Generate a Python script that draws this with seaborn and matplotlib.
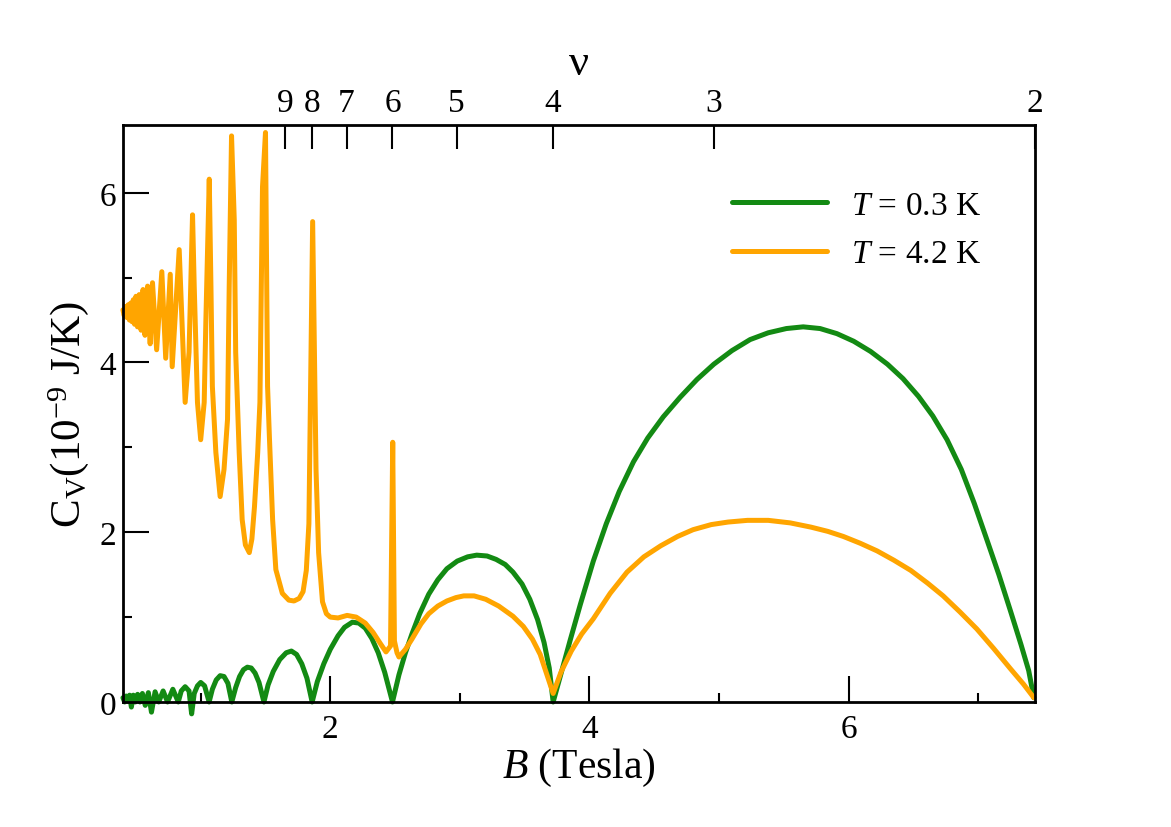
import numpy as np
import pandas as pd
import seaborn as sns
from matplotlib import pyplot as plt
from matplotlib.ticker import MultipleLocator, FixedLocator

NU_B = 14.88

# T = 0.3 K curve
green_B = [0.400, 0.413, 0.425, 0.438, 0.451, 0.465, 0.480, 0.496, 0.513, 0.531,
           0.550, 0.572, 0.596, 0.620, 0.648, 0.676, 0.710, 0.744, 0.785, 0.827,
           0.850, 0.880, 0.910, 0.930, 0.950, 0.975, 1.000, 1.030, 1.065, 1.090,
           1.120, 1.150, 1.180, 1.210, 1.240, 1.270, 1.300, 1.330, 1.360, 1.390,
           1.420, 1.450, 1.488, 1.520, 1.560, 1.610, 1.660, 1.700, 1.740, 1.780,
           1.820, 1.860, 1.900, 1.950, 2.000, 2.060, 2.110, 2.170, 2.220, 2.270,
           2.320, 2.370, 2.420, 2.480, 2.530, 2.580, 2.630, 2.690, 2.760, 2.830,
           2.900, 2.980, 3.060, 3.130, 3.210, 3.280, 3.350, 3.410, 3.480, 3.540,
           3.600, 3.650, 3.690, 3.720, 3.780, 3.850, 3.930, 4.030, 4.130, 4.230,
           4.340, 4.450, 4.570, 4.700, 4.830, 4.960, 5.100, 5.240, 5.380, 5.520,
           5.650, 5.780, 5.910, 6.040, 6.170, 6.300, 6.420, 6.540, 6.650, 6.760,
           6.870, 6.970, 7.070, 7.160, 7.250, 7.330, 7.390, 7.430]
green_C = [0.05, 0.00, 0.07, 0.01, 0.08, -0.06, 0.08, 0.00, 0.09, 0.00,
           0.10, -0.04, 0.11, -0.12, 0.12, 0.00, 0.13, 0.00, 0.15, 0.00,
           0.13, 0.18, 0.13, -0.14, 0.10, 0.19, 0.23, 0.19, 0.00, 0.15,
           0.26, 0.31, 0.30, 0.22, 0.00, 0.17, 0.30, 0.38, 0.41, 0.40,
           0.34, 0.23, 0.00, 0.20, 0.36, 0.50, 0.58, 0.60, 0.56, 0.45,
           0.28, 0.00, 0.24, 0.45, 0.62, 0.78, 0.88, 0.94, 0.93, 0.87,
           0.75, 0.58, 0.35, 0.00, 0.32, 0.58, 0.80, 1.04, 1.27, 1.44,
           1.57, 1.66, 1.71, 1.73, 1.72, 1.68, 1.62, 1.53, 1.39, 1.21,
           0.97, 0.70, 0.40, 0.00, 0.33, 0.72, 1.15, 1.66, 2.10, 2.48,
           2.83, 3.11, 3.36, 3.59, 3.80, 3.98, 4.14, 4.27, 4.35, 4.40,
           4.42, 4.40, 4.34, 4.25, 4.13, 3.98, 3.81, 3.60, 3.37, 3.09,
           2.74, 2.34, 1.90, 1.50, 1.07, 0.68, 0.37, 0.05]

# T = 4.2 K curve
orange_B = [0.400, 0.410, 0.420, 0.430, 0.440, 0.450, 0.460, 0.470, 0.480, 0.490,
            0.500, 0.512, 0.525, 0.540, 0.555, 0.570, 0.590, 0.610, 0.628, 0.660,
            0.700, 0.730, 0.765, 0.780, 0.834, 0.860, 0.880, 0.910, 0.937, 0.950,
            0.975, 1.000, 1.027, 1.040, 1.066, 1.079, 1.090, 1.117, 1.150, 1.180,
            1.207, 1.220, 1.238, 1.259, 1.270, 1.297, 1.320, 1.345, 1.375, 1.395,
            1.415, 1.440, 1.457, 1.477, 1.500, 1.516, 1.530, 1.555, 1.580, 1.630,
            1.680, 1.720, 1.760, 1.790, 1.815, 1.835, 1.864, 1.890, 1.910, 1.940,
            1.970, 2.000, 2.060, 2.130, 2.200, 2.270, 2.330, 2.390, 2.430, 2.465,
            2.482, 2.495, 2.515, 2.530, 2.580, 2.630, 2.700, 2.760, 2.830, 2.900,
            2.970, 3.030, 3.110, 3.200, 3.300, 3.410, 3.490, 3.560, 3.620, 3.670,
            3.720, 3.780, 3.860, 3.940, 4.030, 4.160, 4.290, 4.420, 4.550, 4.680,
            4.800, 4.940, 5.070, 5.220, 5.380, 5.550, 5.710, 5.840, 5.960, 6.090,
            6.220, 6.350, 6.480, 6.610, 6.730, 6.860, 6.990, 7.120, 7.250, 7.350,
            7.430]
orange_C = [4.62, 4.55, 4.66, 4.53, 4.68, 4.50, 4.70, 4.48, 4.74, 4.45,
            4.78, 4.42, 4.80, 4.38, 4.86, 4.32, 4.90, 4.22, 4.94, 4.15,
            5.07, 4.05, 5.04, 3.95, 5.33, 4.31, 3.53, 4.12, 5.74, 4.90,
            3.53, 3.09, 3.53, 4.50, 6.16, 4.90, 3.72, 2.94, 2.42, 2.74,
            3.33, 4.90, 6.67, 5.68, 4.12, 2.94, 2.15, 1.85, 1.76, 1.92,
            2.30, 2.94, 3.53, 6.07, 6.71, 3.72, 3.13, 2.15, 1.56, 1.28,
            1.20, 1.19, 1.22, 1.30, 1.55, 2.10, 5.66, 2.74, 1.76, 1.18,
            1.04, 1.00, 0.99, 1.02, 1.00, 0.93, 0.82, 0.68, 0.59, 0.66,
            3.06, 0.72, 0.58, 0.53, 0.62, 0.74, 0.92, 1.04, 1.13, 1.19,
            1.23, 1.25, 1.25, 1.21, 1.13, 1.01, 0.89, 0.74, 0.56, 0.33,
            0.10, 0.35, 0.60, 0.80, 0.98, 1.28, 1.53, 1.71, 1.84, 1.95,
            2.03, 2.09, 2.12, 2.14, 2.14, 2.11, 2.06, 2.01, 1.95, 1.87,
            1.78, 1.67, 1.55, 1.40, 1.25, 1.06, 0.86, 0.63, 0.39, 0.21,
            0.05]

nu_ticks = [2, 3, 4, 5, 6, 7, 8, 9]
series_names = ["$T$ = 0.3 K", "$T$ = 4.2 K"]
colors = ["#138a13", "#ffa500"]

df = pd.concat([
    pd.DataFrame({"B": green_B, "C": green_C, "curve": series_names[0]}),
    pd.DataFrame({"B": orange_B, "C": orange_C, "curve": series_names[1]}),
])

sns.set_style("ticks")
plt.rcParams["font.family"] = ["Liberation Serif", "DejaVu Serif"]
plt.rcParams["mathtext.fontset"] = "custom"
plt.rcParams["mathtext.rm"] = "Liberation Serif"
plt.rcParams["mathtext.it"] = "Liberation Serif:italic"
plt.rcParams["text.color"] = "black"
plt.rcParams["axes.labelcolor"] = "black"
plt.rcParams["axes.edgecolor"] = "black"
plt.rcParams["xtick.color"] = "black"
plt.rcParams["ytick.color"] = "black"

fig = plt.figure(figsize=(11.71, 8.28), dpi=100)
ax = fig.add_axes([0.105, 0.151, 0.779, 0.697])

sns.lineplot(data=df, x="B", y="C", hue="curve", palette=colors, sort=False,
             estimator=None, linewidth=3.6, ax=ax, legend=True)
for line in ax.lines:
    line.set_solid_joinstyle("round")
    line.set_clip_on(False)

ax.set_xlim(0.4, 7.44)
ax.set_ylim(0, 6.8)

ax.xaxis.set_major_locator(FixedLocator([2, 4, 6]))
ax.xaxis.set_minor_locator(MultipleLocator(1))
ax.yaxis.set_major_locator(MultipleLocator(2))
ax.yaxis.set_minor_locator(MultipleLocator(1))
ax.tick_params(which="both", direction="in", width=1.5, top=False, right=False)
ax.tick_params(which="major", length=19, labelsize=24)
ax.tick_params(axis="x", which="major", pad=8)
ax.tick_params(axis="y", which="major", pad=5)
ax.tick_params(which="minor", length=6.5)
for sp in ax.spines.values():
    sp.set_linewidth(2)

ax.set_xlabel("$B$ (Tesla)", fontsize=30, labelpad=2)
ax.set_ylabel("C$_\\mathrm{V}$(10$^{-9}$ J/K)", fontsize=31, labelpad=6)


def to_nu(b):
    b = np.asarray(b, dtype=float)
    with np.errstate(divide="ignore"):
        return NU_B / b


top = ax.secondary_xaxis("top", functions=(to_nu, to_nu))
top.xaxis.set_major_locator(FixedLocator(nu_ticks))
top.xaxis.set_minor_locator(FixedLocator([]))
top.tick_params(direction="in", length=17, width=1.5, labelsize=24, pad=5)
top.set_xlabel("ν", fontsize=32, labelpad=10)

leg = ax.legend(loc="upper left", bbox_to_anchor=(0.668, 0.887), frameon=False,
                fontsize=24, handlelength=2.85, handletextpad=0.7,
                labelspacing=0.55, borderpad=0, borderaxespad=0)
for h in leg.get_lines():
    h.set_linewidth(3.6)

fig.savefig("out.png", dpi=100)
